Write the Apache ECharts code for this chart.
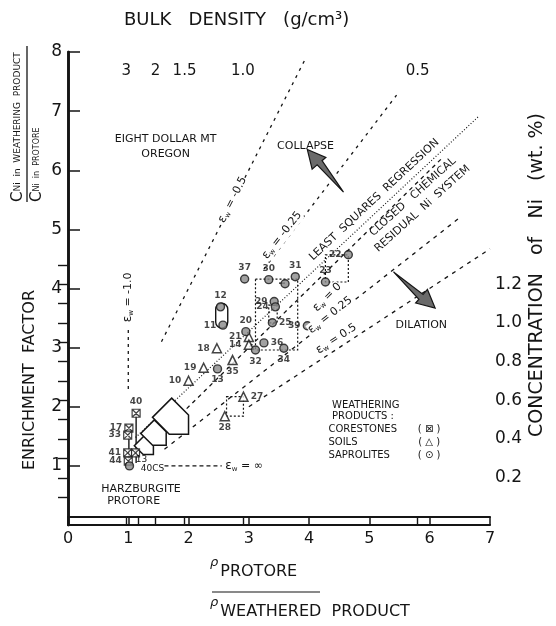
<!DOCTYPE html>
<html><head><meta charset="utf-8">
<script src="https://cdn.jsdelivr.net/npm/echarts@6/dist/echarts.min.js"></script>
<style>html,body{margin:0;padding:0;background:#fff}#c{width:556px;height:626px}</style>
</head><body><div id="c"></div>
<script>
// ---- axis ticks ----
const xTicks = [0,1,2,3,4,5,6,7];
const yTicks = [0,1,2,3,4,5,6,7,8];
const densityLabels = ['3','2','1.5','1.0','0.5'];
const densityTicks = [3,2.5,2,1.5,1.0,0.5];
const protoreDensity = 2.9;
const concLabels = [0.2,0.4,0.6,0.8,1.0,1.2];
const concMinor = [0.1,0.3,0.5,0.7,0.9,1.1,1.3];

// ---- samples [rho ratio, enrichment factor, label] ----
const corestones = [[1.13,1.89,'40'],[1.01,1.64,'17'],[0.99,1.52,'33'],[0.99,1.22,'41'],[1.12,1.22,''],[1.0,1.08,'44']];
const soils = [[2.47,2.99,'18'],[2.25,2.66,'19'],[2.73,2.79,'35'],[2.0,2.44,'10'],[2.91,2.17,'27'],[2.6,1.84,'28'],[3.0,3.18,'21'],[3.0,3.05,'14']];
const saprolites = [[2.93,4.16,'37'],[3.33,4.15,'30'],[3.77,4.2,'31'],[3.6,4.08,''],[3.42,3.78,'29'],[3.44,3.69,'24'],[3.39,3.42,'25'],[3.97,3.37,'39'],[4.65,4.57,'22'],[4.27,4.11,'23'],[3.11,2.96,'32'],[3.58,2.99,'34'],[3.25,3.08,'36'],[2.95,3.27,'20'],[2.53,3.69,'12'],[2.57,3.38,'11'],[2.48,2.64,'13'],[1.02,1.0,'']];

// ---- strain / regression lines (endpoints) ----
const lineEpsM10 = [[1.0,2.3],[1.0,3.35]];
const lineEpsM05 = [[1.55,3.1],[3.92,7.85]];
const lineEpsM025 = [[3.25,4.33],[5.45,7.27]];
const lineRegress = [[1.12,1.48],[6.8,6.9]];
const lineEps0 = [[1.4,1.4],[6.2,6.2]];
const lineEps025 = [[1.6,1.28],[6.5,5.2]];
const lineEps05 = [[3.0,2.0],[7.0,4.67]];
const lineEpsInf = [[1.6,1.0],[2.55,1.0]];
const lineCore40 = [[1.13,1.89],[1.13,1.05]];
const lineCore17 = [[1.01,1.64],[1.01,1.05]];
const line30b = [[3.5,4.09],[3.6,4.09]];

// ---- sample boxes [xmin,ymin,xmax,ymax] ----
const boxes = [[3.11,2.96,3.81,4.16],[4.27,4.11,4.65,4.57],[2.63,1.84,2.91,2.17],[3.33,3.42,3.47,3.72]];
const loop1112 = [2.45,3.33,2.65,3.75];

// ---- process arrows [x tail, y tail, x head, y head] ----
const bigArrows = [[4.57,5.63,3.97,6.35],[5.4,4.28,6.09,3.67]];
// open arrows along the trend [x, y]
const openArrows = [[1.29,1.32],[1.46,1.52],[1.76,1.78]];
const openArrowSize = [9,12,17];

// ---- annotations [x, y] with texts ----
const annTexts = ['EIGHT DOLLAR MT','OREGON','COLLAPSE','DILATION','HARZBURGITE','PROTORE',
 'WEATHERING','PRODUCTS :','CORESTONES','SOILS','SAPROLITES','( ⊠ )','( △ )','( ⊙ )',
 'LEAST  SQUARES  REGRESSION','CLOSED   CHEMICAL','RESIDUAL  Ni  SYSTEM',
 '{e|ε}{w|w}{t| = -0.5}','{e|ε}{w|w}{t| = -0.25}','{e|ε}{w|w}{t| = 0}','{e|ε}{w|w}{t| = 0.25}','{e|ε}{w|w}{t| = 0.5}','{e|ε}{w|w}{t| = ∞}','{e|ε}{w|w}{t| = -1.0}','13','40CS'];
const annPos = [[1.62,6.52],[1.62,6.27],[3.94,6.41],[5.86,3.38],[0.55,0.61],[0.65,0.40],
 [4.38,2.03],[4.38,1.83],[4.32,1.61],[4.32,1.39],[4.32,1.18],[5.99,1.61],[5.99,1.39],[5.99,1.18],
 [5.08,5.5],[5.72,5.55],[5.88,5.35],
 [2.73,5.5],[3.55,4.9],[4.3,3.85],[4.35,3.55],[4.45,3.15],[2.92,1.0],[1.0,3.85],[1.22,1.1],[1.4,0.95]];
const annRot = [0,0,0,0,0,0,0,0,0,0,0,0,0,0,43,42,42,63,52,45,38,33,0,90,0,0];
const annAlign = ['center','center','center','center','left','left','left','left','left','left','left','center','center','center','center','center','center','center','center','center','center','center','center','center','center','center'];
const annSize = [11,11,11,11,11,11,10,10,10,10,10,10,10,10,11,11,11,11,11,11,11,11,11,11,9,9];

const labelPos = {'40':'top','17':'left','33':'left','41':'left','44':'left','18':'left','19':'left','35':'bottom','10':'left','27':'right','28':'bottom','21':'left','14':'left','37':'top','30':'top','31':'top','29':'left','24':'left','25':'right','39':'left','22':'left','23':'top','32':'bottom','34':'bottom','36':'right','20':'top','12':'top','11':'left','13':'bottom'};

// right axis mapping (concentration)
const concMin = -0.044, concMax = 2.40;

const INK = '#151515';
const FONT = 'DejaVu Sans';
const chart = echarts.init(document.getElementById('c'));

function pts(arr){
  return arr.map(d => ({value:[d[0],d[1]], name:d[2], label:{position:labelPos[d[2]]||'right'}}));
}
function lineSeries(data, type, width){
  return {type:'line', data:data, symbol:'none', xAxisIndex:0, yAxisIndex:0, silent:true, z:3,
    lineStyle:{color:INK, width:width||1.3, type:type}, animation:false};
}
const sampleLabel = {show:true, formatter:p=>p.name, fontSize:9, fontWeight:'bold', color:INK, fontFamily:FONT, distance:2};

const series = [
  lineSeries(lineEpsM10,[3,4]),
  lineSeries(lineEpsM05,[3,5]),
  lineSeries(lineEpsM025,[3,5]),
  lineSeries(lineRegress,[1,2],1.2),
  lineSeries(lineEps0,[4,4]),
  lineSeries(lineEps025,[4,5]),
  lineSeries(lineEps05,[4,5]),
  lineSeries(lineEpsInf,[4,3]),
  lineSeries(lineCore40,'solid',1.4),
  lineSeries(lineCore17,'solid',1.4),
  lineSeries(line30b,'solid',1.2),
  {type:'custom', coordinateSystem:'cartesian2d', data:boxes, silent:true, z:2, clip:false,
    renderItem:(params, api)=>{
      const a = api.coord([api.value(0), api.value(1)]);
      const b = api.coord([api.value(2), api.value(3)]);
      return {type:'rect', shape:{x:a[0], y:b[1], width:b[0]-a[0], height:a[1]-b[1]},
        style:{fill:'none', stroke:INK, lineWidth:1.2, lineDash:[2,2]}};
    }},
  {type:'custom', coordinateSystem:'cartesian2d', data:[loop1112], silent:true, z:2, clip:false,
    renderItem:(params, api)=>{
      const a = api.coord([api.value(0), api.value(1)]);
      const b = api.coord([api.value(2), api.value(3)]);
      return {type:'rect', shape:{x:a[0], y:b[1], width:b[0]-a[0], height:a[1]-b[1], r:6},
        style:{fill:'none', stroke:INK, lineWidth:1.4}};
    }},
  {type:'custom', coordinateSystem:'cartesian2d', data:bigArrows, silent:true, z:4, clip:false,
    renderItem:(params, api)=>{
      const t = api.coord([api.value(0), api.value(1)]);
      const h = api.coord([api.value(2), api.value(3)]);
      const dx=h[0]-t[0], dy=h[1]-t[1], L=Math.hypot(dx,dy), ux=dx/L, uy=dy/L, nx=-uy, ny=ux;
      const hl=18, hw=9, sw=4;
      const bx=h[0]-ux*hl, by=h[1]-uy*hl;
      const p=[[t[0],t[1]],[bx+nx*sw,by+ny*sw],[bx+nx*hw,by+ny*hw],[h[0],h[1]],[bx-nx*hw,by-ny*hw],[bx-nx*sw*0.6,by-ny*sw*0.6]];
      return {type:'polygon', shape:{points:p}, style:{fill:'#6a6a6a', stroke:INK, lineWidth:1.2}};
    }},
  {type:'custom', coordinateSystem:'cartesian2d', data:openArrows, silent:true, z:4, clip:false,
    renderItem:(params, api)=>{
      const c = api.coord([api.value(0), api.value(1)]);
      const s = openArrowSize[params.dataIndex];
      const base=[[-1,-0.8],[0.4,-0.8],[1.2,0],[0.4,0.8],[-1,0.8]];
      const ang = Math.PI/4;
      const p = base.map(q=>[c[0]+s*(q[0]*Math.cos(ang)-q[1]*Math.sin(ang)), c[1]+s*(q[0]*Math.sin(ang)+q[1]*Math.cos(ang))]);
      return {type:'polygon', shape:{points:p}, style:{fill:'#fff', stroke:INK, lineWidth:1.5}};
    }},
  {type:'scatter', name:'CORESTONES', data:pts(corestones), symbol:'path://M0,0H10V10H0Z M0,0L10,10 M10,0L0,10', symbolSize:8,
    itemStyle:{color:'#fff', borderColor:INK, borderWidth:1.2}, label:sampleLabel, z:6},
  {type:'scatter', name:'SOILS', data:pts(soils), symbol:'triangle', symbolSize:9,
    itemStyle:{color:'#fff', borderColor:INK, borderWidth:1.5}, label:sampleLabel, z:6},
  {type:'scatter', name:'SAPROLITES', data:pts(saprolites), symbol:'circle', symbolSize:8,
    itemStyle:{color:'#8a8a8a', borderColor:INK, borderWidth:1.4}, label:sampleLabel, z:6},
  {type:'custom', coordinateSystem:'cartesian2d', data:annPos, silent:true, z:7, clip:false,
    renderItem:(params, api)=>{
      const i = params.dataIndex;
      const p = api.coord([api.value(0), api.value(1)]);
      const isEps = i>=17 && i<=23;
      return {type:'text', x:p[0], y:p[1], rotation:annRot[i]*Math.PI/180,
        style:{text:annTexts[i], fill:INK, font:annSize[i]+'px '+FONT, align:annAlign[i], verticalAlign:'middle',
          backgroundColor: (annRot[i] && i>=17) ? '#fff':'transparent',
          rich: isEps ? {e:{fontSize:12, fontFamily:FONT, fill:INK}, w:{fontSize:7, fontFamily:FONT, fill:INK, padding:[6,0,0,0]}, t:{fontSize:11, fontFamily:FONT, fill:INK}} : undefined}};
    }}
];

const densVals = densityLabels.map(s=>protoreDensity/parseFloat(s));
chart.setOption({
  animation:false,
  backgroundColor:'#fff',
  grid:{left:68, right:66, top:52, bottom:101},
  xAxis:[
    {type:'value', min:0, max:7, interval:1, position:'bottom',
     axisLine:{lineStyle:{color:INK, width:2.2}}, axisTick:{inside:true, length:8, lineStyle:{color:INK, width:1.5}},
     axisLabel:{color:INK, fontSize:16, fontFamily:FONT, margin:6}, splitLine:{show:false}},
    {type:'value', min:0, max:7, position:'top',
     axisLine:{lineStyle:{color:INK, width:2.2}},
     axisTick:{inside:true, length:9, customValues:densityTicks.map(d=>protoreDensity/d), lineStyle:{color:INK, width:1.4}},
     axisLabel:{inside:true, margin:12, color:INK, fontSize:15, fontFamily:FONT, customValues:densVals,
       formatter:v=>{let k=0,b=1e9; densVals.forEach((d,i)=>{if(Math.abs(d-v)<b){b=Math.abs(d-v);k=i;}}); return densityLabels[k];}},
     splitLine:{show:false}}
  ],
  yAxis:[
    {type:'value', min:0, max:8, interval:1, position:'left',
     axisLine:{lineStyle:{color:INK, width:2.6}}, axisTick:{inside:true, length:12, lineStyle:{color:INK, width:1.5}},
     axisLabel:{color:INK, fontSize:17, fontFamily:FONT, margin:6, formatter:v=> v===0?'':String(v)}, splitLine:{show:false}},
    {type:'value', min:concMin, max:concMax, position:'right',
     axisLine:{lineStyle:{color:INK, width:2.6}},
     axisTick:{inside:true, length:10, customValues:concLabels.concat(concMinor), lineStyle:{color:INK, width:1.4}},
     axisLabel:{color:INK, fontSize:17, fontFamily:FONT, margin:5, customValues:concLabels, formatter:v=>v.toFixed(1)},
     splitLine:{show:false}}
  ],
  series:series,
  graphic:[
    {type:'text', left:124, top:11, style:{text:'BULK   DENSITY   (g/cm³)', fill:INK, font:'18px '+FONT}},
    {type:'text', x:30, y:470, rotation:Math.PI/2, style:{text:'ENRICHMENT  FACTOR', fill:INK, font:'16px '+FONT, verticalAlign:'middle'}},
    {type:'text', x:18, y:202, rotation:Math.PI/2, style:{text:'{c|C}{s|Ni  in  WEATHERING  PRODUCT}', fill:INK, verticalAlign:'middle',
      rich:{c:{fontSize:15, fontFamily:FONT, fill:INK}, s:{fontSize:9, fontFamily:FONT, fill:INK}}}},
    {type:'line', shape:{x1:27, y1:46, x2:27, y2:202}, style:{stroke:INK, lineWidth:1.3}},
    {type:'text', x:37, y:202, rotation:Math.PI/2, style:{text:'{c|C}{s|Ni  in  PROTORE}', fill:INK, verticalAlign:'middle',
      rich:{c:{fontSize:15, fontFamily:FONT, fill:INK}, s:{fontSize:8, fontFamily:FONT, fill:INK}}}},
    {type:'text', x:537, y:275, rotation:Math.PI/2, style:{text:'CONCENTRATION   of   Ni   (wt. %)', fill:INK, font:'19px '+FONT, align:'center', verticalAlign:'middle'}},
    {type:'text', x:210, y:556, style:{text:'{r|ρ}{t|PROTORE}', rich:{r:{fontSize:13, fontStyle:'italic', fontFamily:FONT, verticalAlign:'top', fill:INK}, t:{fontSize:16, fontFamily:FONT, fill:INK, padding:[8,0,0,2]}}}},
    {type:'line', shape:{x1:212, y1:592, x2:320, y2:592}, style:{stroke:INK, lineWidth:1.2}},
    {type:'text', x:210, y:596, style:{text:'{r|ρ}{t|WEATHERED  PRODUCT}', rich:{r:{fontSize:13, fontStyle:'italic', fontFamily:FONT, verticalAlign:'top', fill:INK}, t:{fontSize:16, fontFamily:FONT, fill:INK, padding:[8,0,0,2]}}}}
  ]
});
</script></body></html>
